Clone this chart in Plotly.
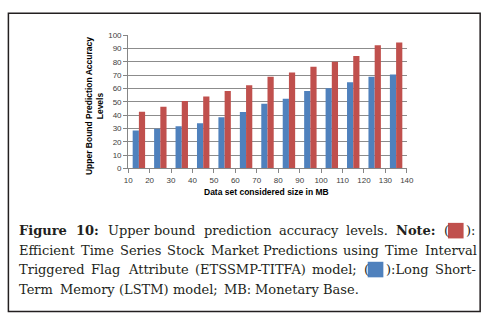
import plotly.graph_objects as go

# ---- data ----
size_mb = [10, 20, 30, 40, 50, 60, 70, 80, 90, 100, 110, 120, 130]
lstm = [28.5, 29.8, 31.7, 33.9, 38.3, 42.4, 48.5, 52.2, 58.0, 60.2, 64.6, 68.8, 70.5]
etssmp = [42.5, 46.3, 50.5, 53.9, 58.0, 62.4, 68.8, 72.0, 76.3, 80.0, 84.4, 92.4, 94.4]
x_ticks = [10, 20, 30, 40, 50, 60, 70, 80, 90, 100, 110, 120, 130, 140]
y_ticks = [0, 10, 20, 30, 40, 50, 60, 70, 80, 90, 100]

BLUE = "#4F81BD"
RED = "#C0504D"
W, H = 494, 330

# bin mid-points (each bar group sits between two labelled boundaries)
centers = [s + 5 for s in size_mb]

fig = go.Figure()
fig.add_trace(go.Bar(x=centers, y=lstm, name="LSTM", marker=dict(color=BLUE, line=dict(width=0))))
fig.add_trace(go.Bar(x=centers, y=etssmp, name="ETSSMP-TITFA", marker=dict(color=RED, line=dict(width=0))))


def px(x):
    return x / W


def py(y):
    return 1 - y / H


tickfont = dict(family="Liberation Sans, Arial, sans-serif", size=8, color="#404040")

fig.update_layout(
    width=W, height=H,
    margin=dict(l=0, r=0, t=0, b=0),
    paper_bgcolor="white", plot_bgcolor="white",
    barmode="group", bargap=0.42, bargroupgap=0,
    showlegend=False,
    xaxis=dict(domain=[px(127), px(412)], range=[10, 140], tickmode="array",
               tickvals=x_ticks, ticktext=[str(v) for v in x_ticks],
               showgrid=False, showline=True, linecolor="#868686", linewidth=1,
               ticks="outside", ticklen=4, tickcolor="#868686", tickfont=tickfont,
               zeroline=False, fixedrange=True),
    yaxis=dict(domain=[py(169), py(32)], range=[0, 100], tickmode="array",
               tickvals=y_ticks, showgrid=True, gridcolor="#8c8c8c", gridwidth=1,
               showline=True, linecolor="#868686", linewidth=1,
               ticks="outside", ticklen=4, tickcolor="#868686", tickfont=tickfont,
               zeroline=False, fixedrange=True),
)

titlefont = dict(family="Liberation Sans, Arial, sans-serif", size=8.5, color="black")
annotations = [
    dict(text="<b>Upper Bound Prediction Accuracy<br>Levels</b>", x=px(92), y=py(105),
         xref="paper", yref="paper", textangle=-90, showarrow=False,
         xanchor="center", yanchor="middle", font=titlefont),
    dict(text="<b>Data set considered size in MB</b>", x=px(268), y=py(193),
         xref="paper", yref="paper", showarrow=False,
         xanchor="center", yanchor="middle", font=titlefont),
]
shapes = [
    # outer frame
    dict(type="rect", xref="paper", yref="paper", x0=px(4.5), x1=px(487), y0=py(316), y1=py(9.5),
         line=dict(color="#231f20", width=1.5), fillcolor="rgba(0,0,0,0)"),
]

# ---- caption: justified text, placed word by word ----
CAP_SIZE = 13
CAP_FONT = "DejaVu Serif, serif"
CW = {
    ' ': .318, 'a': .596, 'b': .640, 'c': .560, 'd': .640, 'e': .592, 'f': .370, 'g': .640,
    'h': .644, 'i': .320, 'j': .306, 'k': .610, 'l': .320, 'm': .948, 'n': .644, 'o': .602,
    'p': .640, 'q': .640, 'r': .478, 's': .513, 't': .402, 'u': .644, 'v': .565, 'w': .830,
    'x': .565, 'y': .565, 'z': .524, 'A': .722, 'B': .735, 'C': .731, 'D': .808, 'E': .730,
    'F': .695, 'G': .785, 'H': .868, 'I': .395, 'L': .637, 'M': .872, 'N': .830, 'P': .683,
    'S': .685, 'T': .683, '(': .390, ')': .390, ':': .337, ';': .337, '.': .318, '-': .338,
    '0': .636, '1': .636,
}
SQ = 16  # colour key width in px


def tw(s, bold=False):
    return sum(CW.get(c, .6) for c in s) * CAP_SIZE * (1.12 if bold else 1.0)


# each token: (text, bold, key colour or None, text after key)
cap_lines = [
    (233, 13, 480, [("Figure", True, None, ""), ("10:", True, None, ""), ("Upper", False, None, ""),
                    ("bound", False, None, ""), ("prediction", False, None, ""),
                    ("accuracy", False, None, ""), ("levels.", False, None, ""),
                    ("Note:", True, None, ""), ("(", False, RED, "):")]),
    (253, 13, 480, [("Efficient", False, None, ""), ("Time", False, None, ""), ("Series", False, None, ""),
                    ("Stock", False, None, ""), ("Market", False, None, ""),
                    ("Predictions", False, None, ""), ("using", False, None, ""),
                    ("Time", False, None, ""), ("Interval", False, None, "")]),
    (273, 13, 480, [("Triggered", False, None, ""), ("Flag", False, None, ""),
                    ("Attribute", False, None, ""), ("(ETSSMP-TITFA)", False, None, ""),
                    ("model;", False, None, ""), ("(", False, BLUE, "):Long"),
                    ("Short-", False, None, "")]),
    (294, 13, 360, [("Term", False, None, ""), ("Memory", False, None, ""), ("(LSTM)", False, None, ""),
                    ("model;", False, None, ""), ("MB:", False, None, ""),
                    ("Monetary", False, None, ""), ("Base.", False, None, "")]),
]
capfont = dict(family=CAP_FONT, size=CAP_SIZE, color="#231f20")


def tok_width(t):
    txt, bold, key, after = t
    w = tw(txt, bold)
    if key:
        w += SQ + 1 + tw(after)
    return w


for yy, left, right, toks in cap_lines:
    total = sum(tok_width(t) for t in toks)
    gap = (right - left - total) / (len(toks) - 1)
    x = left
    for t in toks:
        txt, bold, key, after = t
        label = f"<b>{txt}</b>" if bold else txt
        annotations.append(dict(text=label, x=px(x), y=py(yy), xref="paper", yref="paper",
                                showarrow=False, xanchor="left", yanchor="middle",
                                font=capfont))
        if key:
            kx = x + tw(txt) + 0.5
            shapes.append(dict(type="rect", xref="paper", yref="paper",
                               x0=px(kx), x1=px(kx + SQ), y0=py(yy + 8), y1=py(yy - 8),
                               line=dict(width=0), fillcolor=key))
            annotations.append(dict(text=after, x=px(kx + SQ + 0.5), y=py(yy), xref="paper",
                                    yref="paper", showarrow=False, xanchor="left",
                                    yanchor="middle", font=capfont))
        x += tok_width(t) + gap

fig.update_layout(annotations=annotations, shapes=shapes)

fig.write_html(
    "out.html",
    config={"displayModeBar": False, "staticPlot": True},
    post_script="document.body.style.margin='0';document.body.style.overflow='hidden';",
)
